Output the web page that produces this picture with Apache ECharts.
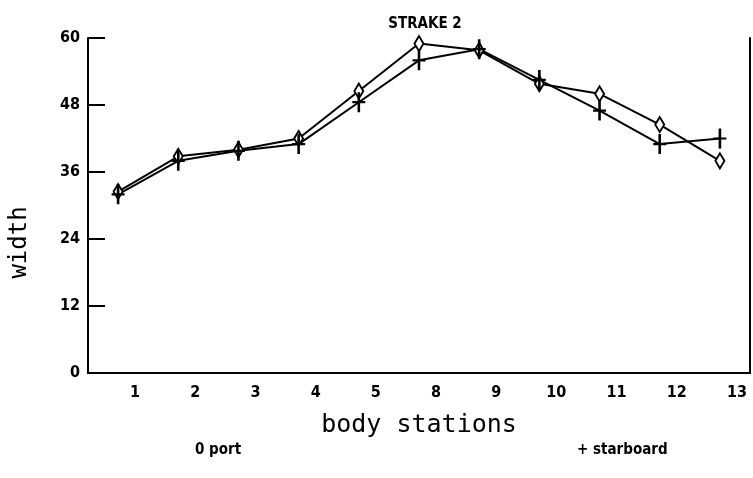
<!DOCTYPE html>
<html>
<head>
<meta charset="utf-8">
<style>
html, body { margin: 0; padding: 0; background: #fff; }
#chart { width: 753px; height: 478px; }
</style>
<script src="https://cdn.jsdelivr.net/npm/echarts@6/dist/echarts.min.js"></script>
</head>
<body>
<div id="chart"></div>
<script>
// body stations along the strake
var stations = ['1', '2', '3', '4', '5', '8', '9', '10', '11', '12', '13'];
// width readings
var port = [32.5, 38.8, 40.0, 42.0, 50.5, 59.0, 57.8, 51.8, 50.0, 44.5, 38.0];
var starboard = [32.0, 38.0, 39.8, 41.0, 48.5, 56.0, 58.0, 52.5, 47.0, 41.0, 42.0];

var narrow = '"Liberation Sans Narrow", "DejaVu Sans Condensed", sans-serif';
var mono = '"DejaVu Sans Mono", "Liberation Mono", monospace';

var chart = echarts.init(document.getElementById('chart'));

var option = {
    animation: false,
    backgroundColor: '#fff',
    title: {
        text: 'STRAKE 2',
        left: 420,
        top: 12,
        textAlign: 'center',
        textStyle: { fontFamily: narrow, fontWeight: 'bold', fontSize: 15, color: '#000' }
    },
    grid: { left: 88, right: 3, top: 38, bottom: 105 },
    xAxis: [
        {
            type: 'category',
            data: stations,
            boundaryGap: true,
            name: 'body stations',
            nameLocation: 'middle',
            nameGap: 40,
            nameTextStyle: { fontFamily: mono, fontSize: 25, color: '#000' },
            axisLine: { lineStyle: { color: '#000', width: 2 } },
            axisTick: { alignWithLabel: true, inside: true, length: 13, lineStyle: { color: '#000', width: 2 } },
            axisLabel: { margin: 12, padding: [0, 0, 0, 34], fontFamily: narrow, fontWeight: 'bold', fontSize: 16, color: '#000' }
        },
        {
            type: 'category',
            data: stations,
            position: 'top',
            boundaryGap: true,
            axisLine: { lineStyle: { color: '#000', width: 2 } },
            axisTick: { alignWithLabel: true, inside: true, length: 13, lineStyle: { color: '#000', width: 2 } },
            axisLabel: { show: false }
        }
    ],
    yAxis: [
        {
            type: 'value',
            min: 0,
            max: 60,
            interval: 12,
            name: 'width',
            nameLocation: 'middle',
            nameRotate: 90,
            nameGap: 56,
            nameTextStyle: { fontFamily: mono, fontSize: 24, color: '#000', padding: [0, 74, 0, 0] },
            splitLine: { show: false },
            axisLine: { show: true, lineStyle: { color: '#000', width: 2 } },
            axisTick: { show: true, inside: true, length: 17, lineStyle: { color: '#000', width: 2 } },
            axisLabel: { margin: 8, fontFamily: narrow, fontWeight: 'bold', fontSize: 16, color: '#000' }
        },
        {
            type: 'value',
            min: 0,
            max: 60,
            interval: 12,
            position: 'right',
            splitLine: { show: false },
            axisLine: { show: true, lineStyle: { color: '#000', width: 2 } },
            axisTick: { show: false },
            axisLabel: { show: false }
        }
    ],
    series: [
        {
            name: 'port',
            type: 'line',
            data: port,
            symbol: 'emptyDiamond',
            symbolSize: [9, 15],
            lineStyle: { color: '#000', width: 2 },
            itemStyle: { color: '#000', borderColor: '#000', borderWidth: 2 }
        },
        {
            name: 'starboard',
            type: 'line',
            data: starboard,
            symbol: 'path://M4,0h2v8h4v2h-4v8h-2v-8h-4v-2h4z',
            symbolSize: [13, 20],
            lineStyle: { color: '#000', width: 2 },
            itemStyle: { color: '#000' }
        }
    ],
    graphic: [
        {
            type: 'text',
            left: 195,
            top: 443,
            style: { text: '0 port', font: 'bold 15px ' + narrow, fill: '#000' }
        },
        {
            type: 'text',
            left: 577,
            top: 443,
            style: { text: '+ starboard', font: 'bold 15px ' + narrow, fill: '#000' }
        }
    ]
};

chart.setOption(option);
window.addEventListener('resize', function () {
    chart.resize();
});
</script>
</body>
</html>
